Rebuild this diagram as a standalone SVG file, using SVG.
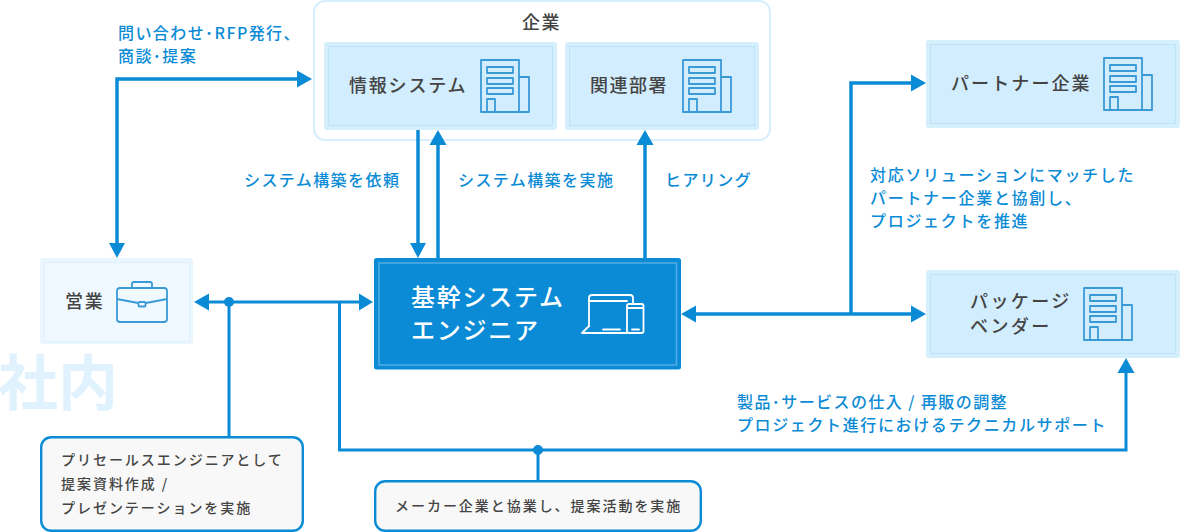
<svg xmlns="http://www.w3.org/2000/svg" xmlns:xlink="http://www.w3.org/1999/xlink" width="1180" height="532" viewBox="0 0 1180 532">
<style>
text{font-family:"Noto Sans CJK JP","Noto Sans",sans-serif}
.b{font-size:16px;letter-spacing:1.42px;fill:#0b8bd6;font-weight:500}
.d{font-size:18px;letter-spacing:1.8px;fill:#444;font-weight:500}
.s{font-size:14px;letter-spacing:1.96px;fill:#444;font-weight:500}
.w{font-size:24px;letter-spacing:1.75px;fill:#fff;font-weight:500}
.outer{fill:#d6effd}
.innr{fill:#d2edfe;stroke:#bde3f7;stroke-width:1}
.note{fill:#f8f8f8;stroke:#0b8bd6;stroke-width:2.4}
.ln{fill:none;stroke:#0b8bd6;stroke-width:3.5}
.ln2{fill:none;stroke:#0b8bd6;stroke-width:3}
.ar{fill:#0b8bd6}
.ic{fill:none;stroke:#3a9ad5;stroke-width:1.8;stroke-linejoin:round}
.icw{fill:none;stroke:#fff;stroke-width:1.8;stroke-linejoin:round;stroke-linecap:round}
</style>
<defs>
<g id="bld" class="ic">
<rect x="481" y="60" width="38" height="52"/>
<path d="M519 77H529V112H519"/>
<rect x="487" y="67" width="26" height="6"/>
<rect x="487" y="78" width="26" height="6"/>
<rect x="487" y="88" width="26" height="6"/>
<path d="M487 112V99H495V112"/>
</g>
</defs>
<text x="-2" y="405" style="fill:#e0f2fd;font-size:60px;font-weight:700">社内</text>
<g id="kigyo">
<rect x="314" y="1" width="456" height="139" rx="11" fill="#fff" stroke="#d6effd" stroke-width="2"/>
<text x="541.500" y="29" class="d" text-anchor="middle" style="letter-spacing:1.5px">企業</text>
</g>
<g id="joho">
<rect class="outer" x="324" y="42" width="233" height="88" rx="3"/>
<rect class="innr" x="328.500" y="46.500" width="224" height="79"/>
<text x="349" y="92" class="d">情報システム</text>
<use xlink:href="#bld"/>
</g>
<g id="kanren">
<rect class="outer" x="565" y="42" width="194" height="88" rx="3"/>
<rect class="innr" x="569.500" y="46.500" width="185" height="79"/>
<text x="590" y="92" class="d" style="letter-spacing:1.5px">関連部署</text>
<use xlink:href="#bld" x="202"/>
</g>
<g id="partner">
<rect class="outer" x="926" y="40" width="254" height="88" rx="3"/>
<rect class="innr" x="930.500" y="44.500" width="245" height="79"/>
<text x="951" y="90" class="d" style="letter-spacing:2.1px">パートナー企業</text>
<use xlink:href="#bld" x="623" y="-2"/>
</g>
<g id="package">
<rect class="outer" x="926" y="270" width="254" height="88" rx="3"/>
<rect class="innr" x="930.500" y="274.500" width="245" height="79"/>
<text x="970" y="308" class="d" style="letter-spacing:2.4px">パッケージ</text>
<text x="970" y="333" class="d" style="letter-spacing:2.4px">ベンダー</text>
<use xlink:href="#bld" x="603" y="228"/>
</g>
<g id="eigyo">
<rect x="40" y="258" width="153" height="86" rx="3" fill="#e9f6fe"/>
<rect x="44.500" y="262.500" width="145" height="79" fill="#f0f9ff" stroke="#dff1fc"/>
<text x="65" y="308" class="d">営業</text>
<g class="ic">
<rect x="117" y="288" width="50" height="34" rx="3"/>
<path d="M132 288V284Q132 282 134 282H150Q152 282 152 284V288"/>
<path d="M117 299L138 303M146 303L167 299"/>
<rect x="138.500" y="302" width="7" height="4.500" rx="1"/>
</g>
</g>
<g id="main">
<rect x="374" y="258" width="307" height="111.500" rx="2.500" fill="#0b8bd6"/>
<rect x="379" y="263" width="297.500" height="102" fill="#0b8bd6" stroke="#52ade4" stroke-width="1.500"/>
<text x="411" y="306" class="w">基幹システム</text>
<text x="411" y="339" class="w">エンジニア</text>
<g class="icw">
<path d="M589 326V298Q589 295 592 295H630Q633 295 633 298V304"/>
<path d="M589 301H627"/>
<path d="M589 326L582 333H627"/>
<path d="M603 329.500H620"/>
<rect x="627" y="304" width="16.500" height="29" rx="2"/>
<path d="M627 308H643M632 329.500H639"/>
</g>
</g>
<g id="connectors">
<path class="ln" d="M297 79H117V245"/>
<path class="ar" d="M297 70.500L312 79L297 87.500Z"/>
<path class="ar" d="M109 243H125L117 258Z"/>
<path class="ln" d="M418 130V245"/>
<path class="ar" d="M410 243H426L418 258Z"/>
<path class="ln" d="M438 258V143"/>
<path class="ar" d="M429.500 145H446.500L438 130Z"/>
<path class="ln" d="M645 258V143"/>
<path class="ar" d="M636.500 145H653.500L645 130Z"/>
<path class="ln2" d="M207 302H361"/>
<path class="ar" d="M209 293.500V310.500L194 302Z"/>
<path class="ar" d="M359 293.500V310.500L373 302Z"/>
<circle class="ar" cx="229" cy="302" r="5"/>
<path class="ln2" d="M229 302V437"/>
<path class="ln2" d="M339.500 302V450H1126V371"/>
<path class="ar" d="M1117.500 373H1134.500L1126 358Z"/>
<circle class="ar" cx="538" cy="450" r="5"/>
<path class="ln2" d="M538 450V481"/>
<path class="ln" d="M695 314H913"/>
<path class="ar" d="M696 305.500V322.500L681 314Z"/>
<path class="ar" d="M911 305.500V322.500L926 314Z"/>
<path class="ln" d="M851 314V83H913"/>
<path class="ar" d="M911 74.500V91.500L926 83Z"/>
</g>
<g id="labels">
<text x="118" y="39" class="b">問い合わせ･RFP発行、</text>
<text x="118" y="62" class="b">商談･提案</text>
<text x="244" y="186" class="b">システム構築を依頼</text>
<text x="458" y="186" class="b">システム構築を実施</text>
<text x="665" y="186" class="b">ヒアリング</text>
<text x="870" y="181" class="b" style="letter-spacing:1.7px">対応ソリューションにマッチした</text>
<text x="870" y="204" class="b" style="letter-spacing:1.7px">パートナー企業と協創し、</text>
<text x="870" y="227" class="b" style="letter-spacing:1.7px">プロジェクトを推進</text>
<text x="737" y="408" class="b">製品･サービスの仕入 / 再販の調整</text>
<text x="737" y="431" class="b" style="letter-spacing:1.62px">プロジェクト進行におけるテクニカルサポート</text>
</g>
<g id="note1">
<rect class="note" x="41.200" y="437.200" width="261.600" height="93.600" rx="10"/>
<text x="61" y="465" class="s">プリセールスエンジニアとして</text>
<text x="61" y="489" class="s">提案資料作成 /</text>
<text x="61" y="513" class="s">プレゼンテーションを実施</text>
</g>
<g id="note2">
<rect class="note" x="375.200" y="481.200" width="325.600" height="49.600" rx="10"/>
<text x="395" y="511" class="s">メーカー企業と協業し、提案活動を実施</text>
</g>
</svg>
